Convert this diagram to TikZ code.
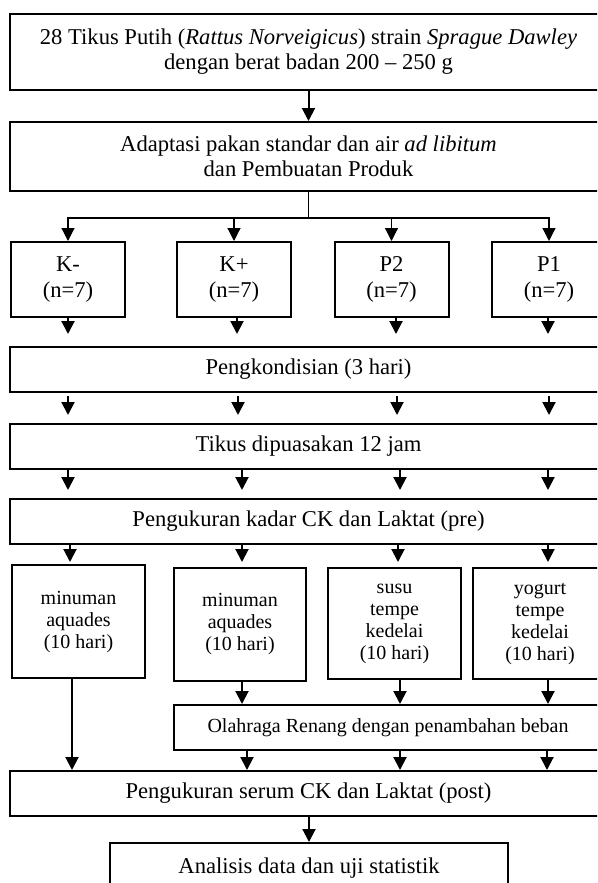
\documentclass[tikz,border=0pt]{standalone}
\usepackage{fontspec}
\setmainfont{Liberation Serif}
\usetikzlibrary{arrows.meta,calc}
\newcommand{\myvlink}[4][]{%
  \path ($(#2)+(#3,0)$) coordinate (vlA);
  \draw[arr,#1] (vlA) -- (vlA |- #4);}
\begin{document}
\begin{tikzpicture}[x=1pt,y=-1pt,
  box/.style={draw,line width=2pt,inner sep=0pt,align=center,
    font=\fontsize{22.6}{25}\selectfont},
  grp/.style={box,minimum width=114pt,minimum height=75pt,
    font=\fontsize{22.6}{26}\selectfont},
  trt/.style={box,font=\fontsize{20}{22}\selectfont},
  arr/.style={line width=2pt,-{Triangle[width=13pt,length=13pt]}},
  branch/.style={line width=1.2pt,-{Triangle[width=13pt,length=13pt]}}]
\useasboundingbox (0,0) rectangle (597,883);
\clip (0,0) rectangle (597,883);
% main boxes
\node[box,minimum width=597pt,minimum height=75pt] (top) at (308.5,52)
  {28 Tikus Putih (\textit{Rattus Norveigicus}) strain \textit{Sprague Dawley}\\dengan berat badan 200 – 250 g};
\node[box,minimum width=597pt,minimum height=69pt] (ad) at (308.5,156.5)
  {Adaptasi pakan standar dan air \textit{ad libitum}\\dan Pembuatan Produk};
% groups
\node[grp] (km) at (68,279.5) {K-\\(n=7)};
\node[grp] (kp) at (234,279.5) {K+\\(n=7)};
\node[grp] (p2) at (391.5,279.5) {P2\\(n=7)};
\node[grp] (p1) at (549,279.5) {P1\\(n=7)};
% wide steps
\node[box,minimum width=597pt,minimum height=45pt] (pk) at (308.5,369.5) {Pengkondisian (3 hari)};
\node[box,minimum width=597pt,minimum height=45pt] (tk) at (308.5,446.5) {Tikus dipuasakan 12 jam};
\node[box,minimum width=597pt,minimum height=45pt] (pr) at (308.5,521.5) {Pengukuran kadar CK dan Laktat (pre)};
% treatments
\node[trt,minimum width=133pt,minimum height=113pt] (ta) at (78.5,621.5) {minuman\\aquades\\(10 hari)};
\node[trt,minimum width=132pt,minimum height=113pt] (tb) at (240,624.5) {minuman\\aquades\\(10 hari)};
\node[trt,minimum width=133pt,minimum height=111pt] (tc) at (394.5,623.5) {susu\\tempe\\kedelai\\(10 hari)};
\node[trt,minimum width=134pt,minimum height=111pt] (td) at (540,623.5) {yogurt\\tempe\\kedelai\\(10 hari)};
\node[trt,minimum width=428pt,minimum height=45pt] (ol) at (388,727.5) {Olahraga Renang dengan penambahan beban};
\node[box,minimum width=597pt,minimum height=45pt] (post) at (308.5,793.5) {Pengukuran serum CK dan Laktat (post)};
\node[box,minimum width=398pt,minimum height=50pt] (bot) at (309,868) {Analisis data dan uji statistik};
% connectors
\draw[arr] (top) -- (ad);
\draw[line width=1.2pt] (ad.south) -- ++(0,26) coordinate (bj);
\draw[branch] (bj) -| (km.north);
\draw[branch] (bj) -| (kp.north);
\draw[branch] (bj) -| (p2.north);
\draw[branch] (bj) -| (p1.north);
% groups -> pengkondisian
\myvlink[shorten >=12pt]{km.south}{0}{pk.north}
\myvlink[shorten >=12pt]{kp.south}{3}{pk.north}
\myvlink[shorten >=12pt]{p2.south}{4.5}{pk.north}
\myvlink[shorten >=12pt]{p1.south}{-1}{pk.north}
% pengkondisian -> tikus
\myvlink[shorten <=3pt,shorten >=8pt]{pk.south -| km}{0}{tk.north}
\myvlink[shorten <=3pt,shorten >=8pt]{pk.south -| kp}{4}{tk.north}
\myvlink[shorten <=3pt,shorten >=8pt]{pk.south -| p2}{5.5}{tk.north}
\myvlink[shorten <=3pt,shorten >=8pt]{pk.south -| p1}{0}{tk.north}
% tikus -> pre
\myvlink[shorten >=8pt]{tk.south -| km}{0}{pr.north}
\myvlink[shorten >=8pt]{tk.south -| kp}{8}{pr.north}
\myvlink[shorten >=8pt]{tk.south -| p2}{8.5}{pr.north}
\myvlink[shorten >=8pt]{tk.south -| p1}{-1}{pr.north}
% pre -> treatments
\myvlink[shorten >=2pt]{pr.south -| ta}{-8.5}{ta.north}
\myvlink[shorten >=5pt]{pr.south -| tb}{2}{tb.north}
\myvlink[shorten >=5pt]{pr.south -| tc}{3.5}{tc.north}
\myvlink[shorten >=5pt]{pr.south -| td}{8}{td.north}
% treatments -> olahraga / post
\myvlink{ta.south}{-6.5}{post.north}
\myvlink{tb.south}{2}{ol.north}
\myvlink{tc.south}{5.5}{ol.north}
\myvlink{td.south}{8}{ol.north}
% olahraga -> post
\myvlink{ol.south -| tb}{7}{post.north}
\myvlink{ol.south -| tc}{5.5}{post.north}
\myvlink{ol.south -| td}{7}{post.north}
% post -> analisis
\draw[arr] (bot.north |- post.south) -- (bot.north);
\end{tikzpicture}
\end{document}
